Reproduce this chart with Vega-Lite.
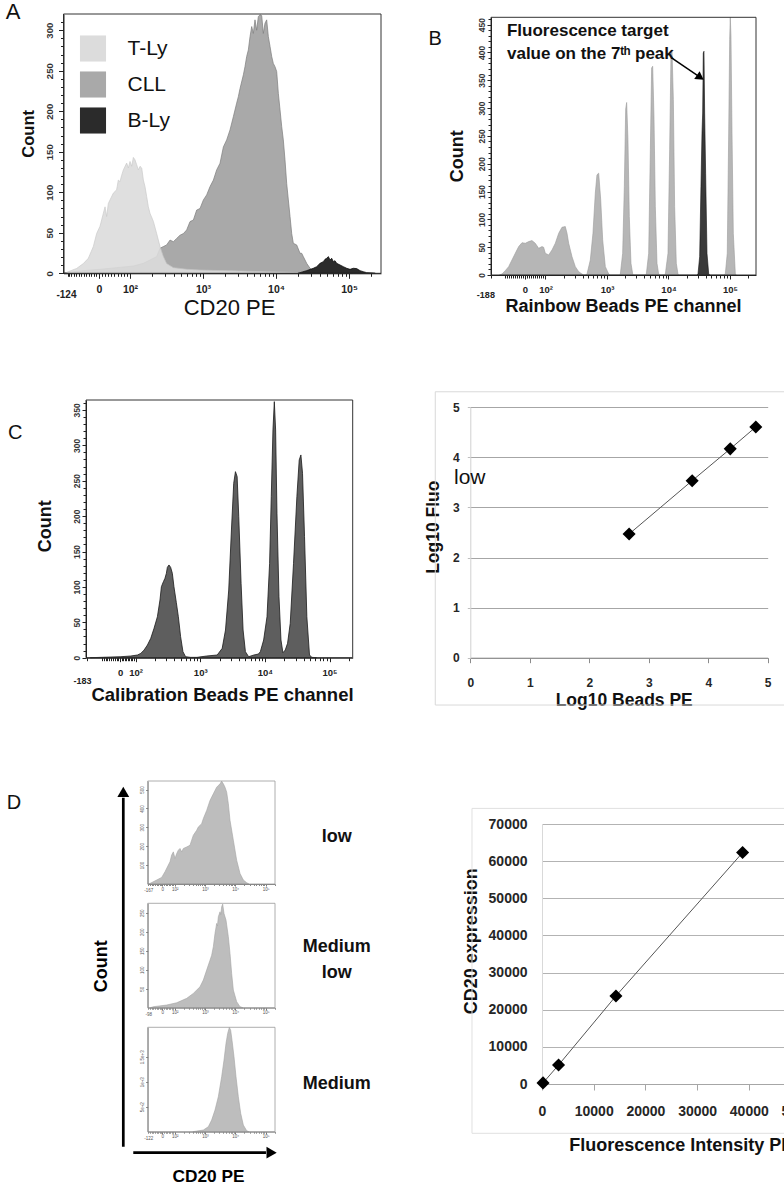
{
"$schema":"https://vega.github.io/schema/vega-lite/v6.json",
"width":784,"height":1186,"autosize":{"type":"none"},"padding":0,"background":"white",
"config":{"view":{"stroke":null},"font":"Liberation Sans","text":{"font":"Liberation Sans"},
 "axis":{"labelFont":"Liberation Sans","titleFont":"Liberation Sans","labelFlush":false,"labelOverlap":false,"labelBound":false,"grid":false,"titleBaseline":"alphabetic","titleAlign":"center","labelLimit":0}},
"layer":[
{
 "data":{"values":[
  {"s":"CLL","pos":1.09,"n":0},{"s":"CLL","pos":1.11,"n":0.8},{"s":"CLL","pos":1.361,"n":3.3},{"s":"CLL","pos":1.589,"n":4.9},{"s":"CLL","pos":1.817,"n":7},{"s":"CLL","pos":2.046,"n":9},{"s":"CLL","pos":2.183,"n":12.3},{"s":"CLL","pos":2.32,"n":18.5},{"s":"CLL","pos":2.365,"n":20.6},{"s":"CLL","pos":2.411,"n":30.9},{"s":"CLL","pos":2.457,"n":33},{"s":"CLL","pos":2.502,"n":35},{"s":"CLL","pos":2.548,"n":41},{"s":"CLL","pos":2.594,"n":39},{"s":"CLL","pos":2.639,"n":43},{"s":"CLL","pos":2.685,"n":47},{"s":"CLL","pos":2.731,"n":49},{"s":"CLL","pos":2.776,"n":53.5},{"s":"CLL","pos":2.822,"n":63.8},{"s":"CLL","pos":2.868,"n":65.8},{"s":"CLL","pos":2.913,"n":78},{"s":"CLL","pos":2.959,"n":80},{"s":"CLL","pos":3.005,"n":90.5},{"s":"CLL","pos":3.05,"n":96.7},{"s":"CLL","pos":3.096,"n":107},{"s":"CLL","pos":3.142,"n":115},{"s":"CLL","pos":3.187,"n":127.6},{"s":"CLL","pos":3.233,"n":135.8},{"s":"CLL","pos":3.279,"n":156},{"s":"CLL","pos":3.324,"n":164.6},{"s":"CLL","pos":3.37,"n":177},{"s":"CLL","pos":3.416,"n":193.4},{"s":"CLL","pos":3.461,"n":210},{"s":"CLL","pos":3.484,"n":218},{"s":"CLL","pos":3.507,"n":228},{"s":"CLL","pos":3.553,"n":245},{"s":"CLL","pos":3.575,"n":255},{"s":"CLL","pos":3.598,"n":267.5},{"s":"CLL","pos":3.621,"n":275.7},{"s":"CLL","pos":3.644,"n":292},{"s":"CLL","pos":3.667,"n":304.5},{"s":"CLL","pos":3.689,"n":296},{"s":"CLL","pos":3.712,"n":312.8},{"s":"CLL","pos":3.735,"n":300},{"s":"CLL","pos":3.758,"n":317},{"s":"CLL","pos":3.781,"n":319},{"s":"CLL","pos":3.804,"n":318},{"s":"CLL","pos":3.826,"n":296},{"s":"CLL","pos":3.849,"n":308.6},{"s":"CLL","pos":3.872,"n":312.8},{"s":"CLL","pos":3.895,"n":292},{"s":"CLL","pos":3.918,"n":280},{"s":"CLL","pos":3.941,"n":267.5},{"s":"CLL","pos":3.963,"n":259},{"s":"CLL","pos":3.986,"n":255},{"s":"CLL","pos":4.009,"n":249},{"s":"CLL","pos":4.032,"n":222},{"s":"CLL","pos":4.055,"n":201.6},{"s":"CLL","pos":4.078,"n":181},{"s":"CLL","pos":4.1,"n":164.6},{"s":"CLL","pos":4.123,"n":140},{"s":"CLL","pos":4.146,"n":111},{"s":"CLL","pos":4.169,"n":90.5},{"s":"CLL","pos":4.192,"n":70},{"s":"CLL","pos":4.215,"n":49},{"s":"CLL","pos":4.237,"n":37},{"s":"CLL","pos":4.283,"n":35},{"s":"CLL","pos":4.329,"n":24.7},{"s":"CLL","pos":4.352,"n":24.7},{"s":"CLL","pos":4.374,"n":20.6},{"s":"CLL","pos":4.42,"n":12.3},{"s":"CLL","pos":4.466,"n":6.2},{"s":"CLL","pos":4.511,"n":2.9},{"s":"CLL","pos":4.557,"n":0.8},{"s":"CLL","pos":4.6,"n":0},
  {"s":"T-Ly","pos":1.12,"n":0},{"s":"T-Ly","pos":1.155,"n":2},{"s":"T-Ly","pos":1.269,"n":6},{"s":"T-Ly","pos":1.361,"n":12},{"s":"T-Ly","pos":1.429,"n":18.5},{"s":"T-Ly","pos":1.498,"n":33},{"s":"T-Ly","pos":1.543,"n":49},{"s":"T-Ly","pos":1.589,"n":58},{"s":"T-Ly","pos":1.635,"n":74},{"s":"T-Ly","pos":1.658,"n":82},{"s":"T-Ly","pos":1.68,"n":70},{"s":"T-Ly","pos":1.703,"n":86},{"s":"T-Ly","pos":1.726,"n":90.5},{"s":"T-Ly","pos":1.772,"n":99},{"s":"T-Ly","pos":1.817,"n":103},{"s":"T-Ly","pos":1.84,"n":115},{"s":"T-Ly","pos":1.863,"n":113},{"s":"T-Ly","pos":1.886,"n":121},{"s":"T-Ly","pos":1.909,"n":127.6},{"s":"T-Ly","pos":1.954,"n":136},{"s":"T-Ly","pos":1.977,"n":130},{"s":"T-Ly","pos":2.0,"n":138},{"s":"T-Ly","pos":2.023,"n":132},{"s":"T-Ly","pos":2.046,"n":143},{"s":"T-Ly","pos":2.068,"n":140},{"s":"T-Ly","pos":2.091,"n":134},{"s":"T-Ly","pos":2.114,"n":127.6},{"s":"T-Ly","pos":2.137,"n":132},{"s":"T-Ly","pos":2.16,"n":130},{"s":"T-Ly","pos":2.183,"n":115},{"s":"T-Ly","pos":2.205,"n":107},{"s":"T-Ly","pos":2.228,"n":94.7},{"s":"T-Ly","pos":2.251,"n":82},{"s":"T-Ly","pos":2.274,"n":74},{"s":"T-Ly","pos":2.32,"n":64},{"s":"T-Ly","pos":2.365,"n":49},{"s":"T-Ly","pos":2.411,"n":33},{"s":"T-Ly","pos":2.457,"n":20.6},{"s":"T-Ly","pos":2.502,"n":12},{"s":"T-Ly","pos":2.594,"n":7},{"s":"T-Ly","pos":2.776,"n":5},{"s":"T-Ly","pos":2.959,"n":4},{"s":"T-Ly","pos":3.416,"n":3},{"s":"T-Ly","pos":3.872,"n":2},{"s":"T-Ly","pos":4.329,"n":1},{"s":"T-Ly","pos":4.4,"n":0},
  {"s":"B-Ly","pos":4.3,"n":0},{"s":"B-Ly","pos":4.329,"n":0.8},{"s":"B-Ly","pos":4.42,"n":3.3},{"s":"B-Ly","pos":4.511,"n":6.2},{"s":"B-Ly","pos":4.557,"n":8.2},{"s":"B-Ly","pos":4.603,"n":12.3},{"s":"B-Ly","pos":4.648,"n":14.4},{"s":"B-Ly","pos":4.671,"n":17.3},{"s":"B-Ly","pos":4.694,"n":18.5},{"s":"B-Ly","pos":4.717,"n":20.6},{"s":"B-Ly","pos":4.74,"n":16.5},{"s":"B-Ly","pos":4.763,"n":18.5},{"s":"B-Ly","pos":4.785,"n":14.4},{"s":"B-Ly","pos":4.808,"n":15.6},{"s":"B-Ly","pos":4.831,"n":12.3},{"s":"B-Ly","pos":4.877,"n":10.3},{"s":"B-Ly","pos":4.922,"n":8.2},{"s":"B-Ly","pos":4.968,"n":6.2},{"s":"B-Ly","pos":5.014,"n":4.9},{"s":"B-Ly","pos":5.059,"n":6.2},{"s":"B-Ly","pos":5.105,"n":5.8},{"s":"B-Ly","pos":5.151,"n":3.3},{"s":"B-Ly","pos":5.196,"n":2},{"s":"B-Ly","pos":5.242,"n":0.8},{"s":"B-Ly","pos":5.333,"n":0.4},{"s":"B-Ly","pos":5.36,"n":0}
 ]},
 "layer":[
  {"transform":[{"filter":"datum.s == 'CLL'"}],
   "mark":{"type":"area","stroke":"#7d7d7d","strokeWidth":0.7},
   "encoding":{
    "x":{"field":"pos","type":"quantitative","scale":{"domain":[1.089,5.438],"range":[63.5,381],"nice":false,"zero":false},
     "axis":{"orient":"bottom","offset":-912.7,"values":[1.575,2,3,4,5],"labelExpr":"datum.value < 1.9 ? '0' : datum.value < 2.5 ? '10²' : datum.value < 3.5 ? '10³' : datum.value < 4.5 ? '10⁴' : '10⁵'","tickSize":5,"tickColor":"#222","domainColor":"#222","labelPadding":14,"labelBaseline":"alphabetic","labelFontSize":10.5,"labelFontWeight":"bold","labelColor":"#222","title":"CD20 PE","titleFontSize":22,"titleFontWeight":"normal","titleColor":"#111","titleX":229,"titleY":41,"zindex":1}},
    "y":{"field":"n","type":"quantitative","scale":{"domain":[0,320],"range":[273.3,14],"nice":false},
     "axis":{"orient":"left","offset":-63.5,"values":[0,50,100,150,200,250,300],"tickSize":5,"tickColor":"#222","domainColor":"#222","labelAngle":-90,"labelAlign":"center","labelBaseline":"bottom","labelPadding":4,"labelFontSize":9.5,"labelFontWeight":"bold","labelColor":"#333","title":"Count","titleFontSize":16.5,"titleFontWeight":"bold","titleColor":"#111","titleAngle":270,"titleX":-30.2,"titleY":133.3,"zindex":1}},
    "y2":{"datum":0},
    "color":{"field":"s","type":"nominal","scale":{"domain":["T-Ly","CLL","B-Ly"],"range":["#dcdcdc","#a9a9a9","#2b2b2b"]},
     "legend":{"orient":"none","legendX":79.5,"legendY":35,"title":null,"symbolType":"square","symbolSize":680,"symbolStrokeWidth":0,"symbolOpacity":1,"labelFontSize":21,"labelColor":"#111","labelFont":"Liberation Sans","rowPadding":9,"labelOffset":21,"padding":0}}}},
  {"transform":[{"filter":"datum.s == 'T-Ly'"}],
   "mark":{"type":"area","stroke":"#c6c6c6","strokeWidth":0.7,"opacity":0.9},
   "encoding":{
    "x":{"field":"pos","type":"quantitative","scale":{"domain":[1.089,5.438],"range":[63.5,381],"nice":false,"zero":false},
     "axis":{"orient":"bottom","offset":-912.7,"values":[1.15,1.1637,1.198,1.2323,1.2665,1.3008,1.335,1.3693,1.4036,1.4379,1.472,1.5064,1.5407,1.6175,1.66,1.7025,1.745,1.7875,1.83,1.8725,1.915,1.9575,2.301,2.477,2.602,2.699,2.778,2.845,2.903,2.954,3.301,3.477,3.602,3.699,3.778,3.845,3.903,3.954,4.301,4.477,4.602,4.699,4.778,4.845,4.903,4.954,5.301],"labelExpr":"datum.value == 1.15 ? '-124' : ''","tickSize":3,"tickColor":"#222","domain":false,"labelPadding":21,"labelOffset":-2,"labelBaseline":"alphabetic","labelFontSize":10,"labelFontWeight":"bold","labelColor":"#222","title":null,"zindex":1}},
    "y":{"field":"n","type":"quantitative","scale":{"domain":[0,320],"range":[273.3,14],"nice":false},
     "axis":{"orient":"left","offset":-63.5,"values":[10,20,30,40,60,70,80,90,110,120,130,140,160,170,180,190,210,220,230,240,260,270,280,290,310],"tickSize":3,"tickColor":"#222","domain":false,"labels":false,"title":null,"zindex":1}},
    "y2":{"datum":0},
    "color":{"field":"s","type":"nominal","scale":{"domain":["T-Ly","CLL","B-Ly"],"range":["#dcdcdc","#a9a9a9","#2b2b2b"]},
     "legend":{"orient":"none","legendX":79.5,"legendY":35,"title":null,"symbolType":"square","symbolSize":680,"symbolStrokeWidth":0,"symbolOpacity":1,"labelFontSize":21,"labelColor":"#111","labelFont":"Liberation Sans","rowPadding":9,"labelOffset":21,"padding":0}}}},
  {"transform":[{"filter":"datum.s == 'B-Ly'"}],
   "mark":{"type":"area","stroke":"#000","strokeWidth":0.7},
   "encoding":{
    "x":{"field":"pos","type":"quantitative","scale":{"domain":[1.089,5.438],"range":[63.5,381],"nice":false,"zero":false},"axis":null},
    "y":{"field":"n","type":"quantitative","scale":{"domain":[0,320],"range":[273.3,14],"nice":false},"axis":null},
    "y2":{"datum":0},
    "color":{"field":"s","type":"nominal","scale":{"domain":["T-Ly","CLL","B-Ly"],"range":["#dcdcdc","#a9a9a9","#2b2b2b"]},
     "legend":{"orient":"none","legendX":79.5,"legendY":35,"title":null,"symbolType":"square","symbolSize":680,"symbolStrokeWidth":0,"symbolOpacity":1,"labelFontSize":21,"labelColor":"#111","labelFont":"Liberation Sans","rowPadding":9,"labelOffset":21,"padding":0}}}},
  {"data":{"values":[{}]},
   "mark":{"type":"rect","filled":false,"color":"#333","strokeWidth":1},
   "encoding":{
    "x":{"datum":1.089,"type":"quantitative","scale":{"domain":[1.089,5.438],"range":[63.5,381],"nice":false,"zero":false},"axis":null},
    "x2":{"datum":5.438},
    "y":{"datum":0,"type":"quantitative","scale":{"domain":[0,320],"range":[273.3,14],"nice":false},"axis":null},
    "y2":{"datum":320}}},
  {"data":{"values":[{"t":"A","pos":0.397,"n":322}]},
   "mark":{"type":"text","fontSize":22,"align":"center","baseline":"middle","color":"#111"},
   "encoding":{
    "x":{"field":"pos","type":"quantitative","scale":{"domain":[1.089,5.438],"range":[63.5,381],"nice":false,"zero":false},"axis":null},
    "y":{"field":"n","type":"quantitative","scale":{"domain":[0,320],"range":[273.3,14],"nice":false},"axis":null},
    "text":{"field":"t"}}}
 ],
 "resolve":{"axis":{"x":"independent","y":"independent"}}
},
{
 "data":{"values":[
  {"s":"bead","pos":1.25,"n":0},{"s":"bead","pos":1.293,"n":1.8},{"s":"bead","pos":1.346,"n":7.8},{"s":"bead","pos":1.401,"n":15},{"s":"bead","pos":1.455,"n":27},{"s":"bead","pos":1.509,"n":39},{"s":"bead","pos":1.564,"n":51},{"s":"bead","pos":1.618,"n":58},{"s":"bead","pos":1.672,"n":57},{"s":"bead","pos":1.727,"n":60},{"s":"bead","pos":1.78,"n":61.8},{"s":"bead","pos":1.834,"n":57},{"s":"bead","pos":1.889,"n":48},{"s":"bead","pos":1.943,"n":51},{"s":"bead","pos":1.97,"n":49.8},{"s":"bead","pos":1.997,"n":39},{"s":"bead","pos":2.052,"n":36},{"s":"bead","pos":2.106,"n":45},{"s":"bead","pos":2.16,"n":57},{"s":"bead","pos":2.215,"n":75},{"s":"bead","pos":2.268,"n":85.7},{"s":"bead","pos":2.322,"n":87},{"s":"bead","pos":2.35,"n":75},{"s":"bead","pos":2.377,"n":57},{"s":"bead","pos":2.431,"n":33},{"s":"bead","pos":2.485,"n":15},{"s":"bead","pos":2.54,"n":6},{"s":"bead","pos":2.593,"n":1.8},{"s":"bead","pos":2.62,"n":0},
  {"s":"bead","pos":2.66,"n":0},{"s":"bead","pos":2.675,"n":1.8},{"s":"bead","pos":2.729,"n":27},{"s":"bead","pos":2.772,"n":75},{"s":"bead","pos":2.81,"n":147},{"s":"bead","pos":2.837,"n":180},{"s":"bead","pos":2.865,"n":183},{"s":"bead","pos":2.898,"n":135},{"s":"bead","pos":2.93,"n":63},{"s":"bead","pos":2.973,"n":15},{"s":"bead","pos":3.028,"n":1.8},{"s":"bead","pos":3.05,"n":0},
  {"s":"bead","pos":3.2,"n":0},{"s":"bead","pos":3.217,"n":1.8},{"s":"bead","pos":3.255,"n":39},{"s":"bead","pos":3.282,"n":159},{"s":"bead","pos":3.304,"n":298},{"s":"bead","pos":3.32,"n":310},{"s":"bead","pos":3.341,"n":243},{"s":"bead","pos":3.363,"n":105},{"s":"bead","pos":3.39,"n":21},{"s":"bead","pos":3.418,"n":1.8},{"s":"bead","pos":3.43,"n":0},
  {"s":"bead","pos":3.62,"n":0},{"s":"bead","pos":3.64,"n":1.8},{"s":"bead","pos":3.678,"n":39},{"s":"bead","pos":3.705,"n":225},{"s":"bead","pos":3.726,"n":372},{"s":"bead","pos":3.743,"n":375},{"s":"bead","pos":3.764,"n":285},{"s":"bead","pos":3.786,"n":123},{"s":"bead","pos":3.813,"n":21},{"s":"bead","pos":3.84,"n":1.8},{"s":"bead","pos":3.86,"n":0},
  {"s":"bead","pos":3.93,"n":0},{"s":"bead","pos":3.949,"n":1.8},{"s":"bead","pos":3.992,"n":39},{"s":"bead","pos":4.019,"n":225},{"s":"bead","pos":4.041,"n":399},{"s":"bead","pos":4.057,"n":405},{"s":"bead","pos":4.079,"n":315},{"s":"bead","pos":4.1,"n":123},{"s":"bead","pos":4.127,"n":21},{"s":"bead","pos":4.154,"n":1.8},{"s":"bead","pos":4.17,"n":0},
  {"s":"bead","pos":4.9,"n":0},{"s":"bead","pos":4.924,"n":1.8},{"s":"bead","pos":4.956,"n":39},{"s":"bead","pos":4.979,"n":255},{"s":"bead","pos":4.995,"n":423},{"s":"bead","pos":5.005,"n":463},{"s":"bead","pos":5.016,"n":429},{"s":"bead","pos":5.033,"n":255},{"s":"bead","pos":5.054,"n":75},{"s":"bead","pos":5.087,"n":1.8},{"s":"bead","pos":5.1,"n":0},
  {"s":"target","pos":4.465,"n":0},{"s":"target","pos":4.48,"n":1.8},{"s":"target","pos":4.507,"n":33},{"s":"target","pos":4.528,"n":159},{"s":"target","pos":4.545,"n":255},{"s":"target","pos":4.556,"n":291},{"s":"target","pos":4.566,"n":399},{"s":"target","pos":4.577,"n":402},{"s":"target","pos":4.588,"n":291},{"s":"target","pos":4.604,"n":183},{"s":"target","pos":4.626,"n":39},{"s":"target","pos":4.654,"n":1.8},{"s":"target","pos":4.67,"n":0}
 ]},
 "layer":[
  {"transform":[{"filter":"datum.s == 'bead'"}],
   "mark":{"type":"area","color":"#b6b6b6","stroke":"#9a9a9a","strokeWidth":0.6},
   "encoding":{
    "x":{"field":"pos","type":"quantitative","scale":{"domain":[1.114,5.423],"range":[491,756],"nice":false,"zero":false},
     "axis":{"orient":"bottom","offset":-911,"values":[1.667,2,3,4,5],"labelExpr":"datum.value < 1.9 ? '0' : datum.value < 2.5 ? '10²' : datum.value < 3.5 ? '10³' : datum.value < 4.5 ? '10⁴' : '10⁵'","tickSize":4,"tickColor":"#222","domainColor":"#222","labelPadding":13,"labelBaseline":"alphabetic","labelFontSize":9.5,"labelFontWeight":"bold","labelColor":"#222","title":"Rainbow Beads PE channel","titleFontSize":18,"titleFontWeight":"bold","titleColor":"#111","titleX":623,"titleY":36,"zindex":1}},
    "y":{"field":"n","type":"quantitative","scale":{"domain":[0,463],"range":[275,17.3],"nice":false},
     "axis":{"orient":"left","offset":-491,"values":[0,50,100,150,200,250,300,350,400,450],"tickSize":4,"tickColor":"#222","domainColor":"#222","labelAngle":-90,"labelAlign":"center","labelBaseline":"bottom","labelPadding":1,"labelFontSize":8.5,"labelFontWeight":"bold","labelColor":"#333","title":"Count","titleFontSize":18,"titleFontWeight":"bold","titleColor":"#111","titleAngle":270,"titleX":-29,"titleY":155.8,"zindex":1}},
    "y2":{"datum":0}}},
  {"transform":[{"filter":"datum.s == 'target'"}],
   "mark":{"type":"area","color":"#3a3a3a","stroke":"#111","strokeWidth":0.6},
   "encoding":{
    "x":{"field":"pos","type":"quantitative","scale":{"domain":[1.114,5.423],"range":[491,756],"nice":false,"zero":false},
     "axis":{"orient":"bottom","offset":-911,"values":[1.12,1.338,1.371,1.404,1.436,1.469,1.502,1.535,1.568,1.601,1.634,1.7,1.733,1.767,1.8,1.833,1.867,1.9,1.933,1.967,2.301,2.477,2.602,2.699,2.778,2.845,2.903,2.954,3.301,3.477,3.602,3.699,3.778,3.845,3.903,3.954,4.301,4.477,4.602,4.699,4.778,4.845,4.903,4.954,5.301],"labelExpr":"datum.value == 1.12 ? '-188' : ''","tickSize":3,"tickColor":"#222","domain":false,"labelPadding":19,"labelOffset":-6,"labelBaseline":"alphabetic","labelFontSize":9,"labelFontWeight":"bold","labelColor":"#222","title":null,"zindex":1}},
    "y":{"field":"n","type":"quantitative","scale":{"domain":[0,463],"range":[275,17.3],"nice":false},
     "axis":{"orient":"left","offset":-491,"values":[10,20,30,40,60,70,80,90,110,120,130,140,160,170,180,190,210,220,230,240,260,270,280,290,310,320,330,340,360,370,380,390,410,420,430,440,460],"tickSize":3,"tickColor":"#222","domain":false,"labels":false,"title":null,"zindex":1}},
    "y2":{"datum":0}}},
  {"data":{"values":[{}]},
   "mark":{"type":"rect","filled":false,"color":"#333","strokeWidth":1},
   "encoding":{
    "x":{"datum":1.114,"type":"quantitative","scale":{"domain":[1.114,5.423],"range":[491,756],"nice":false,"zero":false},"axis":null},
    "x2":{"datum":5.423},
    "y":{"datum":0,"type":"quantitative","scale":{"domain":[0,463],"range":[275,17.3],"nice":false},"axis":null},
    "y2":{"datum":463}}},
  {"data":{"values":[{"t":"Fluorescence target","pos":1.374,"n":428.6},{"t":"value on the 7ᵗʰ peak","pos":1.374,"n":388}]},
   "mark":{"type":"text","fontSize":17,"fontWeight":"bold","align":"left","baseline":"alphabetic","color":"#111"},
   "encoding":{
    "x":{"field":"pos","type":"quantitative","scale":{"domain":[1.114,5.423],"range":[491,756],"nice":false,"zero":false},"axis":null},
    "y":{"field":"n","type":"quantitative","scale":{"domain":[0,463],"range":[275,17.3],"nice":false},"axis":null},
    "text":{"field":"t"}}},
  {"data":{"values":[{"pos":4.057,"n":389.7,"pos2":4.517,"n2":354.9}]},
   "mark":{"type":"rule","color":"#000","strokeWidth":1.5},
   "encoding":{
    "x":{"field":"pos","type":"quantitative","scale":{"domain":[1.114,5.423],"range":[491,756],"nice":false,"zero":false},"axis":null},
    "y":{"field":"n","type":"quantitative","scale":{"domain":[0,463],"range":[275,17.3],"nice":false},"axis":null},
    "x2":{"field":"pos2"},"y2":{"field":"n2"}}},
  {"data":{"values":[{"pos":4.517,"n":354.9}]},
   "mark":{"type":"point","shape":"triangle-right","angle":34.4,"filled":true,"color":"#000","size":90,"opacity":1},
   "encoding":{
    "x":{"field":"pos","type":"quantitative","scale":{"domain":[1.114,5.423],"range":[491,756],"nice":false,"zero":false},"axis":null},
    "y":{"field":"n","type":"quantitative","scale":{"domain":[0,463],"range":[275,17.3],"nice":false},"axis":null}}},
  {"data":{"values":[{"t":"B","pos":0.208,"n":424.5}]},
   "mark":{"type":"text","fontSize":20,"align":"center","baseline":"middle","color":"#111"},
   "encoding":{
    "x":{"field":"pos","type":"quantitative","scale":{"domain":[1.114,5.423],"range":[491,756],"nice":false,"zero":false},"axis":null},
    "y":{"field":"n","type":"quantitative","scale":{"domain":[0,463],"range":[275,17.3],"nice":false},"axis":null},
    "text":{"field":"t"}}}
 ],
 "resolve":{"axis":{"x":"independent","y":"independent"}}
},
{
 "data":{"values":[
  {"pos":1.3,"n":0},{"pos":1.465,"n":0.5},{"pos":1.773,"n":1.4},{"pos":1.927,"n":2.4},{"pos":2.03,"n":3.8},{"pos":2.081,"n":6.1},{"pos":2.132,"n":10.8},{"pos":2.184,"n":17.9},{"pos":2.235,"n":27.3},{"pos":2.286,"n":41.5},{"pos":2.338,"n":57.9},{"pos":2.378,"n":81.5},{"pos":2.4,"n":100.3},{"pos":2.431,"n":107.4},{"pos":2.455,"n":112.1},{"pos":2.477,"n":119.2},{"pos":2.492,"n":127.6},{"pos":2.517,"n":131},{"pos":2.543,"n":127.6},{"pos":2.569,"n":119.2},{"pos":2.594,"n":100.3},{"pos":2.631,"n":77.7},{"pos":2.662,"n":57.9},{"pos":2.697,"n":29.7},{"pos":2.733,"n":8.5},{"pos":2.774,"n":1.4},{"pos":2.851,"n":0.5},{"pos":2.95,"n":0.5},{"pos":3.1,"n":2.4},{"pos":3.263,"n":3.8},{"pos":3.34,"n":13.2},{"pos":3.391,"n":39.1},{"pos":3.441,"n":95.6},{"pos":3.483,"n":180.4},{"pos":3.518,"n":246.3},{"pos":3.545,"n":262.8},{"pos":3.571,"n":255.8},{"pos":3.596,"n":199.2},{"pos":3.632,"n":105},{"pos":3.663,"n":39.1},{"pos":3.699,"n":8.5},{"pos":3.749,"n":1.4},{"pos":3.83,"n":3.8},{"pos":3.9,"n":5.2},{"pos":3.93,"n":8.5},{"pos":3.981,"n":25},{"pos":4.033,"n":57.9},{"pos":4.073,"n":133.3},{"pos":4.099,"n":227.5},{"pos":4.125,"n":321.7},{"pos":4.146,"n":361.7},{"pos":4.166,"n":321.7},{"pos":4.187,"n":204},{"pos":4.218,"n":86.2},{"pos":4.249,"n":25},{"pos":4.279,"n":7},{"pos":4.315,"n":10.8},{"pos":4.351,"n":20.3},{"pos":4.392,"n":48.5},{"pos":4.443,"n":133.3},{"pos":4.495,"n":227.5},{"pos":4.531,"n":279.3},{"pos":4.557,"n":286.4},{"pos":4.582,"n":260.5},{"pos":4.613,"n":171},{"pos":4.649,"n":57.9},{"pos":4.69,"n":3.8},{"pos":4.726,"n":0.5},{"pos":4.8,"n":0}
 ]},
 "layer":[
  {"mark":{"type":"area","color":"#5e5e5e","stroke":"#1a1a1a","strokeWidth":0.8},
   "encoding":{
    "x":{"field":"pos","type":"quantitative","scale":{"domain":[1.234,5.358],"range":[86,352.7],"nice":false,"zero":false},
     "axis":{"orient":"bottom","offset":-528.3,"values":[1.762,2,3,4,5],"labelExpr":"datum.value < 1.9 ? '0' : datum.value < 2.5 ? '10²' : datum.value < 3.5 ? '10³' : datum.value < 4.5 ? '10⁴' : '10⁵'","tickSize":4,"tickColor":"#222","domainColor":"#222","labelPadding":14,"labelBaseline":"alphabetic","labelFontSize":9.5,"labelFontWeight":"bold","labelColor":"#222","title":"Calibration Beads PE channel","titleFontSize":18.5,"titleFontWeight":"bold","titleColor":"#111","titleX":222,"titleY":43,"zindex":1}},
    "y":{"field":"n","type":"quantitative","scale":{"domain":[0,364],"range":[657.7,400],"nice":false},
     "axis":{"orient":"left","offset":-86,"values":[0,50,100,150,200,250,300,350],"tickSize":4,"tickColor":"#222","domainColor":"#222","labelAngle":-90,"labelAlign":"center","labelBaseline":"bottom","labelPadding":1,"labelFontSize":8.5,"labelFontWeight":"bold","labelColor":"#333","title":"Count","titleFontSize":18,"titleFontWeight":"bold","titleColor":"#111","titleAngle":270,"titleX":-36,"titleY":525.8,"zindex":1}},
    "y2":{"datum":0}}},
  {"data":{"values":[{}]},
   "mark":{"type":"rect","filled":false,"color":"#333","strokeWidth":1},
   "encoding":{
    "x":{"datum":1.234,"type":"quantitative","scale":{"domain":[1.234,5.358],"range":[86,352.7],"nice":false,"zero":false},"axis":null},
    "x2":{"datum":5.358},
    "y":{"datum":0,"type":"quantitative","scale":{"domain":[0,364],"range":[657.7,400],"nice":false},"axis":null},
    "y2":{"datum":364}}},
  {"data":{"values":[{"t":"C","pos":0.139,"n":318}]},
   "mark":{"type":"text","fontSize":20,"align":"center","baseline":"middle","color":"#111"},
   "encoding":{
    "x":{"field":"pos","type":"quantitative","scale":{"domain":[1.234,5.358],"range":[86,352.7],"nice":false,"zero":false},
     "axis":{"orient":"bottom","offset":-528.3,"values":[1.25,1.482,1.51,1.538,1.566,1.594,1.622,1.65,1.678,1.706,1.734,1.786,1.81,1.833,1.857,1.881,1.905,1.929,1.952,1.976,2.301,2.477,2.602,2.699,2.778,2.845,2.903,2.954,3.301,3.477,3.602,3.699,3.778,3.845,3.903,3.954,4.301,4.477,4.602,4.699,4.778,4.845,4.903,4.954,5.301],"labelExpr":"datum.value == 1.25 ? '-183' : ''","tickSize":3,"tickColor":"#222","domain":false,"labelPadding":23,"labelOffset":-5,"labelBaseline":"alphabetic","labelFontSize":9,"labelFontWeight":"bold","labelColor":"#222","title":null,"zindex":1}},
    "y":{"field":"n","type":"quantitative","scale":{"domain":[0,364],"range":[657.7,400],"nice":false},
     "axis":{"orient":"left","offset":-86,"values":[10,20,30,40,60,70,80,90,110,120,130,140,160,170,180,190,210,220,230,240,260,270,280,290,310,320,330,340,360],"tickSize":3,"tickColor":"#222","domain":false,"labels":false,"title":null,"zindex":1}},
    "text":{"field":"t"}}}
 ],
 "resolve":{"axis":{"x":"independent","y":"independent"}}
},
{
 "data":{"values":[{"x":2.67,"y":2.47},{"x":3.73,"y":3.535},{"x":4.37,"y":4.17},{"x":4.8,"y":4.607}]},
 "layer":[
  {"data":{"values":[{}]},
   "mark":{"type":"rect","filled":false,"color":"#d9d9d9","strokeWidth":1},
   "encoding":{
    "x":{"datum":-0.589,"type":"quantitative","scale":{"domain":[0,5],"range":[470.3,767.7],"nice":false,"zero":false},"axis":null},
    "x2":{"datum":5.4},
    "y":{"datum":-0.945,"type":"quantitative","scale":{"domain":[0,5],"range":[657.7,407.3],"nice":false,"zero":false},"axis":null},
    "y2":{"datum":5.31}}},
  {"mark":{"type":"line","color":"#555","strokeWidth":1},
   "encoding":{
    "x":{"field":"x","type":"quantitative","scale":{"domain":[0,5],"range":[470.3,767.7],"nice":false,"zero":false},"axis":null},
    "y":{"field":"y","type":"quantitative","scale":{"domain":[0,5],"range":[657.7,407.3],"nice":false,"zero":false},"axis":null}}},
  {"mark":{"type":"point","shape":"diamond","filled":true,"color":"#000","size":170,"opacity":1},
   "encoding":{
    "x":{"field":"x","type":"quantitative","scale":{"domain":[0,5],"range":[470.3,767.7],"nice":false,"zero":false},
     "axis":{"orient":"bottom","offset":-528.3,"values":[0,1,2,3,4,5],"tickSize":5,"tickColor":"#8c8c8c","domainColor":"#8c8c8c","labelPadding":24,"labelBaseline":"alphabetic","labelFontSize":12,"labelFontWeight":"bold","labelColor":"#262626","title":"Log10 Beads PE","titleFontSize":17.5,"titleFontWeight":"bold","titleColor":"#111","titleX":623.7,"titleY":47.3}},
    "y":{"field":"y","type":"quantitative","scale":{"domain":[0,5],"range":[657.7,407.3],"nice":false,"zero":false},
     "axis":{"orient":"left","offset":-470.3,"values":[0,1,2,3,4,5],"grid":true,"gridColor":"#a6a6a6","tickSize":3,"tickColor":"#bfbfbf","domainColor":"#d0d0d0","labelPadding":8,"labelAlign":"right","labelBaseline":"middle","labelFontSize":12,"labelFontWeight":"bold","labelColor":"#262626","title":"Log10 Fluo","titleFontSize":17.5,"titleFontWeight":"bold","titleColor":"#111","titleAngle":270,"titleX":-32,"titleY":526.7}}}},
  {"data":{"values":[{"t":"low","x":-0.274,"y":3.59}]},
   "mark":{"type":"text","fontSize":21,"align":"left","baseline":"middle","color":"#111"},
   "encoding":{
    "x":{"field":"x","type":"quantitative","scale":{"domain":[0,5],"range":[470.3,767.7],"nice":false,"zero":false},"axis":null},
    "y":{"field":"y","type":"quantitative","scale":{"domain":[0,5],"range":[657.7,407.3],"nice":false,"zero":false},"axis":null},
    "text":{"field":"t"}}}
 ],
 "resolve":{"axis":{"x":"independent","y":"independent"}}
},
{
 "data":{"values":[
  {"pos":1.12,"n":0},{"pos":1.185,"n":3},{"pos":1.406,"n":21},{"pos":1.571,"n":35},{"pos":1.68,"n":65},{"pos":1.79,"n":100},{"pos":1.845,"n":118},{"pos":1.9,"n":153},{"pos":1.955,"n":170},{"pos":2.01,"n":135},{"pos":2.066,"n":161},{"pos":2.12,"n":179},{"pos":2.175,"n":188},{"pos":2.23,"n":170},{"pos":2.285,"n":188},{"pos":2.395,"n":196},{"pos":2.505,"n":205},{"pos":2.56,"n":232},{"pos":2.615,"n":258},{"pos":2.725,"n":284},{"pos":2.78,"n":302},{"pos":2.89,"n":319},{"pos":2.945,"n":346},{"pos":3.055,"n":389},{"pos":3.165,"n":442},{"pos":3.275,"n":477},{"pos":3.33,"n":495},{"pos":3.385,"n":512},{"pos":3.44,"n":521},{"pos":3.495,"n":530},{"pos":3.55,"n":544},{"pos":3.605,"n":530},{"pos":3.66,"n":512},{"pos":3.715,"n":486},{"pos":3.77,"n":425},{"pos":3.825,"n":337},{"pos":3.935,"n":232},{"pos":4.045,"n":126},{"pos":4.155,"n":56},{"pos":4.265,"n":21},{"pos":4.375,"n":7},{"pos":4.45,"n":0}
 ]},
 "layer":[
  {"mark":{"type":"area","color":"#bdbdbd","stroke":"#a3a3a3","strokeWidth":0.6},
   "encoding":{
    "x":{"field":"pos","type":"quantitative","scale":{"domain":[1.109,5.31],"range":[147.7,275],"nice":false,"zero":false},
     "axis":{"orient":"bottom","offset":-302,"values":[1.591,2,3,4,5],"labelExpr":"datum.value < 1.9 ? '0' : datum.value < 2.5 ? '10²' : datum.value < 3.5 ? '10³' : datum.value < 4.5 ? '10⁴' : '10⁵'","tickSize":2,"tickColor":"#777","domainColor":"#888","labelFontSize":4.5,"labelColor":"#555","labelPadding":4,"labelBaseline":"alphabetic","title":null,"zindex":1}},
    "y":{"field":"n","type":"quantitative","scale":{"domain":[0,545],"range":[884,781],"nice":false},
     "axis":{"orient":"left","offset":-147.7,"values":[100,200,300,400,500],"tickSize":2,"tickColor":"#777","domainColor":"#888","labelAngle":-90,"labelAlign":"center","labelBaseline":"bottom","labelFontSize":4.5,"labelColor":"#555","labelPadding":1.5,"title":null,"zindex":1}},
    "y2":{"datum":0}}},
  {"data":{"values":[{}]},
   "mark":{"type":"rect","filled":false,"color":"#999","strokeWidth":0.8},
   "encoding":{
    "x":{"datum":1.109,"type":"quantitative","scale":{"domain":[1.109,5.31],"range":[147.7,275],"nice":false,"zero":false},"axis":null},
    "x2":{"datum":5.31},
    "y":{"datum":0,"type":"quantitative","scale":{"domain":[0,545],"range":[884,781],"nice":false},"axis":null},
    "y2":{"datum":545}}},
  {"data":{"values":[{"t":"low","pos":7.347,"n":250.3}]},
   "mark":{"type":"text","fontSize":18,"fontWeight":"bold","align":"center","baseline":"middle","color":"#111"},
   "encoding":{
    "x":{"field":"pos","type":"quantitative","scale":{"domain":[1.109,5.31],"range":[147.7,275],"nice":false,"zero":false},
     "axis":{"orient":"bottom","offset":-302,"values":[1.13,1.2,1.25,1.3,1.35,1.4,1.45,1.5,1.55,1.65,1.7,1.75,1.8,1.85,1.9,1.95,2.301,2.477,2.602,2.699,2.778,2.845,2.903,2.954,3.301,3.477,3.602,3.699,3.778,3.845,3.903,3.954,4.301,4.477,4.602,4.699,4.778,4.845,4.903,4.954,5.301],"labelExpr":"datum.value == 1.13 ? '-167' : ''","tickSize":1.5,"tickColor":"#888","domain":false,"labelFontSize":4.5,"labelColor":"#555","labelPadding":6,"labelBaseline":"alphabetic","title":null,"zindex":1}},
    "y":{"field":"n","type":"quantitative","scale":{"domain":[0,545],"range":[884,781],"nice":false},"axis":null},
    "text":{"field":"t"}}},
  {"data":{"values":[{"t":"D","pos":-3.304,"n":428.6}]},
   "mark":{"type":"text","fontSize":20,"align":"center","baseline":"middle","color":"#111"},
   "encoding":{
    "x":{"field":"pos","type":"quantitative","scale":{"domain":[1.109,5.31],"range":[147.7,275],"nice":false,"zero":false},"axis":null},
    "y":{"field":"n","type":"quantitative","scale":{"domain":[0,545],"range":[884,781],"nice":false},"axis":null},
    "text":{"field":"t"}}}
 ],
 "resolve":{"axis":{"x":"independent","y":"independent"}}
},
{
 "data":{"values":[
  {"pos":1.2,"n":0},{"pos":1.294,"n":2.6},{"pos":1.736,"n":7},{"pos":2.066,"n":13},{"pos":2.396,"n":24.6},{"pos":2.615,"n":37.7},{"pos":2.835,"n":55},{"pos":2.945,"n":72.8},{"pos":3.055,"n":99},{"pos":3.165,"n":125},{"pos":3.22,"n":138},{"pos":3.275,"n":160.5},{"pos":3.33,"n":195.6},{"pos":3.385,"n":222},{"pos":3.41,"n":215},{"pos":3.44,"n":239.5},{"pos":3.495,"n":252.6},{"pos":3.52,"n":245},{"pos":3.55,"n":265.8},{"pos":3.584,"n":272.8},{"pos":3.627,"n":248},{"pos":3.693,"n":230.7},{"pos":3.77,"n":187},{"pos":3.825,"n":143},{"pos":3.88,"n":90},{"pos":3.935,"n":46.5},{"pos":4.045,"n":15.8},{"pos":4.155,"n":2.6},{"pos":4.25,"n":0}
 ]},
 "layer":[
  {"mark":{"type":"area","color":"#bdbdbd","stroke":"#a3a3a3","strokeWidth":0.6},
   "encoding":{
    "x":{"field":"pos","type":"quantitative","scale":{"domain":[1.109,5.31],"range":[147.7,275],"nice":false,"zero":false},
     "axis":{"orient":"bottom","offset":-178.3,"values":[1.591,2,3,4,5],"labelExpr":"datum.value < 1.9 ? '0' : datum.value < 2.5 ? '10²' : datum.value < 3.5 ? '10³' : datum.value < 4.5 ? '10⁴' : '10⁵'","tickSize":2,"tickColor":"#777","domainColor":"#888","labelFontSize":4.5,"labelColor":"#555","labelPadding":4,"labelBaseline":"alphabetic","title":null,"zindex":1}},
    "y":{"field":"n","type":"quantitative","scale":{"domain":[0,275],"range":[1007.7,903.3],"nice":false},
     "axis":{"orient":"left","offset":-147.7,"values":[50,100,150,200,250],"tickSize":2,"tickColor":"#777","domainColor":"#888","labelAngle":-90,"labelAlign":"center","labelBaseline":"bottom","labelFontSize":4.5,"labelColor":"#555","labelPadding":1.5,"title":null,"zindex":1}},
    "y2":{"datum":0}}},
  {"data":{"values":[{}]},
   "mark":{"type":"rect","filled":false,"color":"#999","strokeWidth":0.8},
   "encoding":{
    "x":{"datum":1.109,"type":"quantitative","scale":{"domain":[1.109,5.31],"range":[147.7,275],"nice":false,"zero":false},"axis":null},
    "x2":{"datum":5.31},
    "y":{"datum":0,"type":"quantitative","scale":{"domain":[0,275],"range":[1007.7,903.3],"nice":false},"axis":null},
    "y2":{"datum":275}}},
  {"data":{"values":[{"t":"Medium","pos":7.347,"n":160.7},{"t":"low","pos":7.347,"n":92.2}]},
   "mark":{"type":"text","fontSize":18,"fontWeight":"bold","align":"center","baseline":"middle","color":"#111"},
   "encoding":{
    "x":{"field":"pos","type":"quantitative","scale":{"domain":[1.109,5.31],"range":[147.7,275],"nice":false,"zero":false},
     "axis":{"orient":"bottom","offset":-178.3,"values":[1.13,1.2,1.25,1.3,1.35,1.4,1.45,1.5,1.55,1.65,1.7,1.75,1.8,1.85,1.9,1.95,2.301,2.477,2.602,2.699,2.778,2.845,2.903,2.954,3.301,3.477,3.602,3.699,3.778,3.845,3.903,3.954,4.301,4.477,4.602,4.699,4.778,4.845,4.903,4.954,5.301],"labelExpr":"datum.value == 1.13 ? '-98' : ''","tickSize":1.5,"tickColor":"#888","domain":false,"labelFontSize":4.5,"labelColor":"#555","labelPadding":6,"labelBaseline":"alphabetic","title":null,"zindex":1}},
    "y":{"field":"n","type":"quantitative","scale":{"domain":[0,275],"range":[1007.7,903.3],"nice":false},"axis":null},
    "text":{"field":"t"}}}
 ],
 "resolve":{"axis":{"x":"independent","y":"independent"}}
},
{
 "data":{"values":[
  {"pos":2.6,"n":0},{"pos":2.726,"n":13},{"pos":2.945,"n":33},{"pos":3.11,"n":100},{"pos":3.22,"n":233},{"pos":3.33,"n":433},{"pos":3.44,"n":700},{"pos":3.55,"n":1100},{"pos":3.627,"n":1433},{"pos":3.693,"n":1767},{"pos":3.748,"n":1967},{"pos":3.803,"n":2087},{"pos":3.847,"n":2033},{"pos":3.891,"n":1833},{"pos":3.957,"n":1500},{"pos":4.023,"n":1100},{"pos":4.1,"n":700},{"pos":4.178,"n":367},{"pos":4.265,"n":133},{"pos":4.375,"n":20},{"pos":4.45,"n":0}
 ]},
 "layer":[
  {"mark":{"type":"area","color":"#bdbdbd","stroke":"#a3a3a3","strokeWidth":0.6},
   "encoding":{
    "x":{"field":"pos","type":"quantitative","scale":{"domain":[1.109,5.31],"range":[147.7,275],"nice":false,"zero":false},
     "axis":{"orient":"bottom","offset":-54.3,"values":[1.591,2,3,4,5],"labelExpr":"datum.value < 1.9 ? '0' : datum.value < 2.5 ? '10²' : datum.value < 3.5 ? '10³' : datum.value < 4.5 ? '10⁴' : '10⁵'","tickSize":2,"tickColor":"#777","domainColor":"#888","labelFontSize":4.5,"labelColor":"#555","labelPadding":4,"labelBaseline":"alphabetic","title":null,"zindex":1}},
    "y":{"field":"n","type":"quantitative","scale":{"domain":[0,2090],"range":[1131.7,1027.3],"nice":false},
     "axis":{"orient":"left","offset":-147.7,"values":[500,1000,1500],"format":",","tickSize":2,"tickColor":"#777","domainColor":"#888","labelAngle":-90,"labelAlign":"center","labelBaseline":"bottom","labelFontSize":4.5,"labelColor":"#555","labelPadding":1.5,"title":null,"zindex":1}},
    "y2":{"datum":0}}},
  {"data":{"values":[{}]},
   "mark":{"type":"rect","filled":false,"color":"#999","strokeWidth":0.8},
   "encoding":{
    "x":{"datum":1.109,"type":"quantitative","scale":{"domain":[1.109,5.31],"range":[147.7,275],"nice":false,"zero":false},"axis":null},
    "x2":{"datum":5.31},
    "y":{"datum":0,"type":"quantitative","scale":{"domain":[0,2090],"range":[1131.7,1027.3],"nice":false},"axis":null},
    "y2":{"datum":2090}}},
  {"data":{"values":[{"t":"Medium","pos":7.347,"n":955}]},
   "mark":{"type":"text","fontSize":18,"fontWeight":"bold","align":"center","baseline":"middle","color":"#111"},
   "encoding":{
    "x":{"field":"pos","type":"quantitative","scale":{"domain":[1.109,5.31],"range":[147.7,275],"nice":false,"zero":false},
     "axis":{"orient":"bottom","offset":-54.3,"values":[1.13,1.2,1.25,1.3,1.35,1.4,1.45,1.5,1.55,1.65,1.7,1.75,1.8,1.85,1.9,1.95,2.301,2.477,2.602,2.699,2.778,2.845,2.903,2.954,3.301,3.477,3.602,3.699,3.778,3.845,3.903,3.954,4.301,4.477,4.602,4.699,4.778,4.845,4.903,4.954,5.301],"labelExpr":"datum.value == 1.13 ? '-122' : ''","tickSize":1.5,"tickColor":"#888","domain":false,"labelFontSize":4.5,"labelColor":"#555","labelPadding":6,"labelBaseline":"alphabetic","title":null,"zindex":1}},
    "y":{"field":"n","type":"quantitative","scale":{"domain":[0,2090],"range":[1131.7,1027.3],"nice":false},"axis":null},
    "text":{"field":"t"}}}
 ],
 "resolve":{"axis":{"x":"independent","y":"independent"}}
},
{
 "layer":[
  {"data":{"values":[{"x":0,"y":0.0164,"x2":0,"y2":0.97},{"x":0.065,"y":0,"x2":0.93,"y2":0}]},
   "mark":{"type":"rule","color":"#000","strokeWidth":2.7},
   "encoding":{
    "x":{"field":"x","type":"quantitative","scale":{"domain":[0,1],"range":[123.3,276.7],"nice":false,"zero":false},
     "axis":{"orient":"bottom","offset":-33.3,"domain":false,"ticks":false,"labels":false,"title":"CD20 PE","titleFontSize":17.3,"titleFontWeight":"bold","titleColor":"#000","titleX":208,"titleY":29}},
    "y":{"field":"y","type":"quantitative","scale":{"domain":[0,1],"range":[1152.7,786.7],"nice":false,"zero":false},
     "axis":{"orient":"left","offset":-123.3,"domain":false,"ticks":false,"labels":false,"title":"Count","titleFontSize":18,"titleFontWeight":"bold","titleColor":"#000","titleAngle":270,"titleX":-16.6,"titleY":965.8}},
    "x2":{"field":"x2"},"y2":{"field":"y2"}}},
  {"data":{"values":[{"x":0,"y":0.986,"shape":"triangle-up"},{"x":0.9668,"y":0,"shape":"triangle-right"}]},
   "mark":{"type":"point","filled":true,"color":"#000","size":140,"opacity":1},
   "encoding":{
    "x":{"field":"x","type":"quantitative","scale":{"domain":[0,1],"range":[123.3,276.7],"nice":false,"zero":false},"axis":null},
    "y":{"field":"y","type":"quantitative","scale":{"domain":[0,1],"range":[1152.7,786.7],"nice":false,"zero":false},"axis":null},
    "shape":{"field":"shape","type":"nominal","scale":null,"legend":null}}}
 ],
 "resolve":{"axis":{"x":"independent","y":"independent"}}
},
{
 "data":{"values":[{"x":200,"y":300},{"x":3200,"y":5100},{"x":14300,"y":23700},{"x":38800,"y":62300}]},
 "layer":[
  {"data":{"values":[{}]},
   "mark":{"type":"rect","filled":false,"color":"#e0e0e0","strokeWidth":1},
   "encoding":{
    "x":{"datum":-13540,"type":"quantitative","scale":{"domain":[0,55000],"range":[542,826.35],"nice":false,"zero":false},"axis":null},
    "x2":{"datum":60000},
    "y":{"datum":-13270,"type":"quantitative","scale":{"domain":[0,70000],"range":[1084,824],"nice":false,"zero":false},"axis":null},
    "y2":{"datum":74200}}},
  {"mark":{"type":"line","color":"#555","strokeWidth":1},
   "encoding":{
    "x":{"field":"x","type":"quantitative","scale":{"domain":[0,55000],"range":[542,826.35],"nice":false,"zero":false},"axis":null},
    "y":{"field":"y","type":"quantitative","scale":{"domain":[0,70000],"range":[1084,824],"nice":false,"zero":false},"axis":null}}},
  {"mark":{"type":"point","shape":"diamond","filled":true,"color":"#000","size":170,"opacity":1},
   "encoding":{
    "x":{"field":"x","type":"quantitative","scale":{"domain":[0,55000],"range":[542,826.35],"nice":false,"zero":false},
     "axis":{"orient":"bottom","offset":-102,"values":[0,10000,20000,30000,40000,50000],"format":"d","tickSize":6,"tickColor":"#a6a6a6","domainColor":"#a6a6a6","labelPadding":25,"labelBaseline":"alphabetic","labelFontSize":14,"labelFontWeight":"bold","labelColor":"#262626","title":"Fluorescence Intensity PE","titleFontSize":18,"titleFontWeight":"bold","titleColor":"#111","titleAlign":"left","titleX":568.7,"titleY":66}},
    "y":{"field":"y","type":"quantitative","scale":{"domain":[0,70000],"range":[1084,824],"nice":false,"zero":false},
     "axis":{"orient":"left","offset":-542,"values":[0,10000,20000,30000,40000,50000,60000,70000],"format":"d","grid":true,"gridColor":"#b3b3b3","ticks":false,"domainColor":"#d9d9d9","labelPadding":15,"labelAlign":"right","labelBaseline":"middle","labelFontSize":14,"labelFontWeight":"bold","labelColor":"#262626","title":"CD20 expression","titleFontSize":18,"titleFontWeight":"bold","titleColor":"#111","titleAngle":270,"titleX":-65.5,"titleY":940.8}}}}
 ],
 "resolve":{"axis":{"x":"independent","y":"independent"}}
}
],
"resolve":{"scale":{"x":"independent","y":"independent"},"axis":{"x":"independent","y":"independent"}}
}
